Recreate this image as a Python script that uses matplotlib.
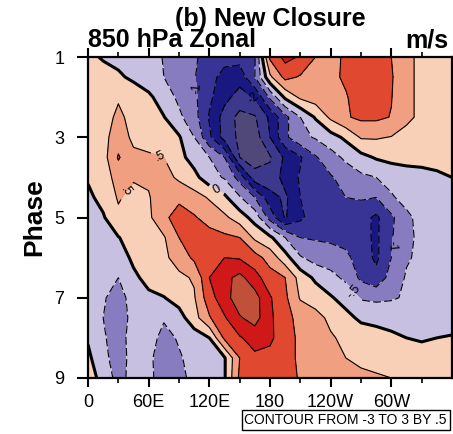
import numpy as np
import matplotlib
matplotlib.use('Agg')
import matplotlib.pyplot as plt

plt.rcParams['font.family'] = ['Liberation Sans', 'DejaVu Sans']

# longitude (deg E) and MJO phase grid
lon = np.arange(0, 361, 15)
phase = np.arange(1, 9.01, 0.5)

# 850 hPa zonal wind anomaly (m/s), rows = phase 1..9 by .5, cols = lon 0..360 by 15
u850 = [
    [0.12, -0.05, -0.15, -0.25, -0.35, -0.52, -0.75, -0.95, -1.15, -1.3, -1.3, -1.05, 1.1, 1.65, 1.45, 1.0, 0.8, 1.1, 1.3, 1.25, 1.0, 0.6, 0.4, 0.3, 0.12],
    [0.2, 0.2, 0.08, -0.1, -0.3, -0.5, -0.75, -0.97, -1.3, -1.7, -1.8, -1.0, 0.4, 1.15, 0.95, 0.8, 0.85, 1.1, 1.35, 1.3, 1.05, 0.6, 0.4, 0.3, 0.2],
    [0.2, 0.3, 0.45, 0.3, 0.1, -0.25, -0.6, -0.9, -1.4, -1.85, -2.2, -1.95, -0.9, 0.1, 0.6, 0.75, 0.8, 0.95, 1.3, 1.3, 1.02, 0.6, 0.4, 0.3, 0.2],
    [0.2, 0.3, 0.6, 0.35, 0.25, 0.02, -0.4, -0.8, -1.55, -2.2, -2.65, -2.55, -1.9, -1.15, -0.5, 0.05, 0.6, 0.95, 1.1, 1.1, 0.98, 0.6, 0.4, 0.3, 0.2],
    [0.2, 0.35, 0.75, 0.4, 0.35, 0.2, 0.05, -0.5, -1.4, -2.2, -2.6, -2.75, -2.0, -1.1, -0.65, -0.45, -0.2, 0.1, 0.55, 0.55, 0.48, 0.35, 0.3, 0.25, 0.2],
    [0.2, 0.3, 1.05, 0.6, 0.55, 0.5, 0.15, -0.2, -0.5, -1.0, -2.5, -2.75, -2.55, -1.9, -1.55, -1.05, -0.7, -0.4, -0.15, 0.05, 0.15, 0.15, 0.1, 0.1, 0.15],
    [0.05, 0.25, 0.7, 0.55, 0.6, 0.7, 0.4, 0.15, -0.3, -0.55, -1.2, -2.3, -2.35, -1.8, -1.45, -1.25, -1.05, -0.8, -0.6, -0.5, -0.35, -0.2, -0.1, -0.05, 0.0],
    [-0.1, 0.15, 0.55, 0.35, 0.45, 0.9, 0.9, 0.7, 0.45, 0.1, -0.45, -1.0, -1.8, -2.1, -1.5, -1.2, -1.1, -1.0, -0.95, -1.0, -0.55, -0.35, -0.25, -0.15, -0.1],
    [-0.15, -0.05, 0.4, 0.3, 0.4, 0.9, 1.2, 1.05, 0.8, 0.6, 0.25, -0.2, -1.2, -2.05, -1.6, -1.25, -1.2, -1.15, -1.3, -1.6, -1.1, -0.6, -0.35, -0.25, -0.15],
    [-0.2, -0.15, -0.02, 0.2, 0.3, 0.45, 1.0, 1.3, 1.2, 1.1, 1.0, 0.4, 0.1, -0.5, -1.0, -1.05, -1.1, -1.15, -1.3, -1.6, -1.05, -0.6, -0.4, -0.3, -0.2],
    [-0.3, -0.4, -0.25, 0.1, 0.3, 0.4, 0.7, 1.1, 1.3, 1.5, 1.45, 1.2, 0.8, 0.2, -0.45, -0.7, -0.75, -0.9, -1.2, -1.6, -1.0, -0.55, -0.4, -0.35, -0.3],
    [-0.35, -0.4, -0.5, -0.1, 0.15, 0.3, 0.4, 0.55, 1.5, 1.85, 2.15, 1.7, 1.2, 1.0, 0.3, -0.1, -0.35, -0.6, -1.1, -1.35, -0.8, -0.45, -0.4, -0.35, -0.35],
    [-0.35, -0.45, -0.7, -0.3, -0.1, -0.02, 0.2, 0.45, 1.3, 1.8, 2.3, 2.2, 1.55, 1.1, 0.45, 0.3, 0.05, -0.2, -0.55, -0.6, -0.55, -0.45, -0.4, -0.35, -0.35],
    [-0.3, -0.5, -0.75, -0.35, -0.3, -0.45, -0.2, 0.3, 0.95, 1.45, 1.95, 2.2, 1.6, 1.15, 0.85, 0.65, 0.4, 0.15, -0.1, -0.15, -0.2, -0.25, -0.25, -0.25, -0.3],
    [-0.05, -0.45, -0.7, -0.3, -0.3, -0.65, -0.45, -0.25, 0.0, 1.1, 1.45, 1.7, 1.6, 1.2, 0.9, 0.75, 0.55, 0.4, 0.3, 0.2, 0.1, 0.0, -0.05, 0.0, 0.05],
    [0.1, -0.35, -0.75, -0.3, -0.4, -0.75, -0.55, -0.35, -0.25, -0.05, 1.0, 1.4, 1.35, 1.2, 0.9, 0.8, 0.65, 0.5, 0.4, 0.35, 0.3, 0.25, 0.2, 0.15, 0.1],
    [0.2, -0.15, -0.7, -0.3, -0.4, -0.7, -0.6, -0.4, -0.3, -0.05, 1.1, 1.2, 1.3, 1.2, 0.95, 0.8, 0.7, 0.65, 0.6, 0.55, 0.5, 0.4, 0.3, 0.2, 0.15],
]

levels = np.arange(-3, 3.01, 0.5)
fill_colors = ['#504878', '#3c388c', '#181880', '#383496', '#887cc0', '#c8c0e0',
               '#f8d0b8', '#f0a080', '#e04830', '#d01818', '#c05038', '#a04040']
xtick_pos = [0, 60, 120, 180, 240, 300]
xtick_labels = ['0', '60E', '120E', '180', '120W', '60W']
ytick_pos = [1, 3, 5, 7, 9]


def ncl_fmt(v):
    s = '%g' % v
    return s.replace('0.', '.')


fig = plt.figure(figsize=(4.53, 4.34), dpi=100)
ax = fig.add_axes([88/453, 1-378/434, 364/453, 321/434])

ax.contourf(lon, phase, u850, levels=levels, colors=fill_colors)
neg = [l for l in levels if l < 0]
pos = [l for l in levels if l > 0]
cn = ax.contour(lon, phase, u850, levels=neg, colors='k', linewidths=0.8,
                linestyles=[(0, (7, 3))])
cp = ax.contour(lon, phase, u850, levels=pos, colors='k', linewidths=0.8,
                linestyles='solid')
cz = ax.contour(lon, phase, u850, levels=[0], colors='k', linewidths=2.2)

# a few line labels, as in the original
ax.clabel(cn, fmt=ncl_fmt, fontsize=9, inline=True,
          manual=[(103, 1.8), (161, 2.15), (297, 5.7), (256, 7.0)])
ax.clabel(cp, fmt=ncl_fmt, fontsize=9, inline=True,
          manual=[(74, 3.3), (36, 4.3)])
ax.clabel(cz, fmt=ncl_fmt, fontsize=9, inline=True, manual=[(125, 4.4)])

ax.set_xlim(0, 360)
ax.set_ylim(9, 1)
ax.set_xticks(xtick_pos)
ax.set_xticklabels(xtick_labels, fontsize=13)
ax.set_xticks(np.arange(30, 360, 60), minor=True)
ax.set_yticks(ytick_pos)
ax.set_yticklabels([str(p) for p in ytick_pos], fontsize=13)
ax.tick_params(axis='x', which='major', direction='out', length=6.5, width=1.5,
               top=True, pad=5)
ax.tick_params(axis='x', which='minor', direction='out', length=3.5, width=1.2,
               top=True)
ax.tick_params(axis='y', which='major', direction='out', length=8, width=1.5,
               right=False, pad=9)
for s in ax.spines.values():
    s.set_linewidth(1.6)

ax.set_ylabel('Phase', fontsize=19, fontweight='bold', labelpad=6)

fig.text(270/453, 1-19/434, '(b) New Closure', fontsize=18, fontweight='bold',
         ha='center', va='center')
fig.text(88/453, 1-40/434, '850 hPa Zonal', fontsize=18, fontweight='bold',
         ha='left', va='center')
fig.text(448/453, 1-40/434, 'm/s', fontsize=18, fontweight='bold',
         ha='right', va='center')
fig.text(447/453, 1-420/434, 'CONTOUR FROM -3 TO 3 BY .5', fontsize=10,
         ha='right', va='center',
         bbox=dict(boxstyle='square,pad=0.2', fc='white', ec='k', lw=1))

fig.savefig('out.png', dpi=100)
